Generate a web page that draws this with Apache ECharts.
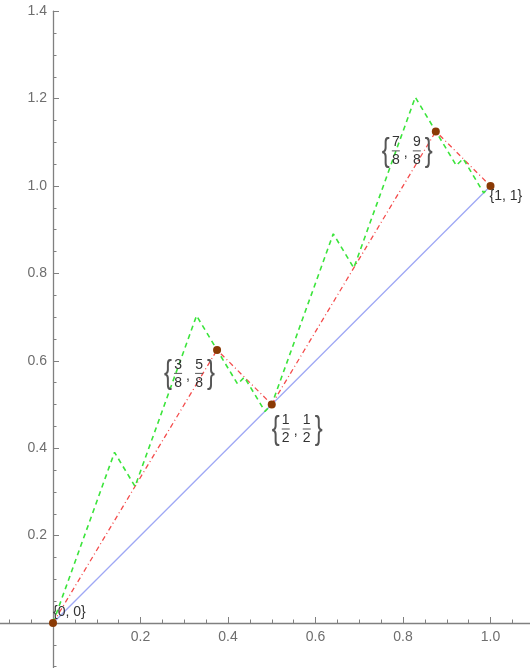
<!DOCTYPE html>
<html>
<head>
<meta charset="utf-8">
<script src="https://cdn.jsdelivr.net/npm/echarts@6/dist/echarts.min.js"></script>
<style>
	html, body { margin: 0; padding: 0; background: #fff; }
	#curve { width: 530px; height: 668px; }
</style>
</head>
<body>
<div id="curve"></div>
<script>
//////////// 데이터 ////////////
// 직선 (0,0) - (1,1)
var baseX = [0, 1];
var baseY = [0, 1];

// 1단계 꺾은선 (점 표시)
var firstX = [0, 0.375, 0.5, 0.875, 1];
var firstY = [0, 0.625, 0.5, 1.125, 1];

// 2단계 꺾은선
var secondX = [0, 0.140625, 0.1875, 0.328125, 0.375, 0.421875, 0.4375, 0.484375, 0.5,
	0.640625, 0.6875, 0.828125, 0.875, 0.921875, 0.9375, 0.984375, 1];
var secondY = [0, 0.390625, 0.3125, 0.703125, 0.625, 0.546875, 0.5625, 0.484375, 0.5,
	0.890625, 0.8125, 1.203125, 1.125, 1.046875, 1.0625, 0.984375, 1];

// 점 이름
var plainText = ['{0, 0}', null, null, null, '{1, 1}'];
var fracText = [null, ['3', '8', '5', '8'], ['1', '2', '1', '2'], ['7', '8', '9', '8'], null];

// 축 범위, 눈금
var xRange = [-0.2, 1.2];
var yRange = [-0.2, 1.4];
var axisInterval = 0.2;
var minorSplit = 4;

//////////// 스타일 ////////////
var FONT = 'Liberation Sans, Arial, sans-serif';
var TEXT_COLOR = '#333';
var AXIS_COLOR = '#808080';
var plainOffset = [[0, -11], null, null, null, [-1, 10]];
// 분수 라벨 상자 위치 (점 기준)
var fracOffset = [null, [-53, 7], [0, 8], [-54, 3], null];
// 그리드 (원점이 53, 623 에 오도록)
var GRID = { left: -34.5, right: -48, top: 11.2, bottom: -42.4 };

function zip(xs, ys) {
	var out = [];
	for (var i = 0; i < xs.length; i++) out.push([xs[i], ys[i]]);
	return out;
}

function tickLabel(v) {
	if (v <= 0.0001) return '';
	return v.toFixed(1);
}

// 분수 라벨 그리기
function renderFrac(params, api) {
	var i = api.value(2);
	var f = fracText[i];
	var p = api.coord([api.value(0), api.value(1)]);
	var off = fracOffset[i];
	var x0 = p[0] + off[0];
	var y0 = p[1] + off[1];
	var digit = function (t, x, y) {
		return { type: 'text', x: x0 + x, y: y0 + y,
			style: { text: t, fill: TEXT_COLOR, font: '14px ' + FONT, align: 'center', verticalAlign: 'middle' } };
	};
	var bar = function (x) {
		return { type: 'line', shape: { x1: x0 + x - 4, y1: y0 + 16.5, x2: x0 + x + 4, y2: y0 + 16.5 },
			style: { stroke: '#555', lineWidth: 1 } };
	};
	var brace = function (t, x) {
		return { type: 'text', x: x0 + x, y: y0 + 17, scaleX: 0.7,
			style: { text: t, fill: '#555', font: '34px ' + FONT, align: 'center', verticalAlign: 'middle' } };
	};
	return {
		type: 'group',
		children: [
			brace('{', 4),
			digit(f[0], 14, 8), bar(14), digit(f[1], 14, 26),
			digit(',', 24, 19),
			digit(f[2], 35, 8), bar(35), digit(f[3], 35, 26),
			brace('}', 47)
		]
	};
}

function axisCommon(range) {
	return {
		type: 'value',
		min: range[0],
		max: range[1],
		interval: axisInterval,
		axisLine: { onZero: false, lineStyle: { color: AXIS_COLOR, width: 1.3 } },
		axisTick: { inside: true, length: 6, lineStyle: { color: AXIS_COLOR, width: 1 } },
		minorTick: { show: true, splitNumber: minorSplit, length: 3.5, lineStyle: { color: AXIS_COLOR, width: 1 } },
		splitLine: { show: false },
		axisLabel: { formatter: tickLabel, color: '#6e6e6e', fontSize: 14, fontFamily: FONT }
	};
}

function showCurve() {
	var chart = echarts.init(document.getElementById('curve'));

	// 축을 0 위치로 옮기기 (그리드 가장자리에서 안쪽으로)
	var gridW = 530 - GRID.left - GRID.right;
	var gridH = 668 - GRID.top - GRID.bottom;

	var xAxis = axisCommon(xRange);
	xAxis.offset = yRange[0] * gridH / (yRange[1] - yRange[0]);
	xAxis.axisLabel.margin = 7;

	var yAxis = axisCommon(yRange);
	yAxis.offset = xRange[0] * gridW / (xRange[1] - xRange[0]);
	yAxis.axisLabel.margin = 6;

	var pointData = [];
	for (var i = 0; i < firstX.length; i++) {
		var item = { value: [firstX[i], firstY[i]] };
		if (plainText[i]) {
			item.label = {
				show: true, formatter: plainText[i], position: 'inside',
				align: 'left', verticalAlign: 'middle', offset: plainOffset[i],
				color: TEXT_COLOR, fontSize: 14, fontFamily: FONT
			};
		}
		pointData.push(item);
	}

	var fracData = [];
	for (var j = 0; j < fracText.length; j++) {
		if (fracText[j]) fracData.push([firstX[j], firstY[j], j]);
	}

	var option = {
		animation: false,
		grid: {
			left: GRID.left, right: GRID.right, top: GRID.top, bottom: GRID.bottom,
			containLabel: false, outerBoundsMode: 'none'
		},
		xAxis: xAxis,
		yAxis: yAxis,
		series: [
			{
				type: 'line', data: zip(baseX, baseY), symbol: 'none', z: 2,
				lineStyle: { color: '#9fa8f5', width: 1.3 }
			},
			{
				type: 'line', data: zip(firstX, firstY), symbol: 'none', z: 2,
				lineStyle: { color: '#f44c4c', width: 1.3, type: [5, 3, 1, 3] }
			},
			{
				type: 'line', data: zip(secondX, secondY), symbol: 'none', z: 3,
				lineStyle: { color: '#3be43b', width: 1.6, type: [5, 4] }
			},
			{
				type: 'scatter', data: pointData, symbolSize: 8, z: 6,
				itemStyle: { color: '#8a3a05', opacity: 1 }
			},
			{
				type: 'custom', data: fracData, renderItem: renderFrac,
				encode: { x: 0, y: 1 }, z: 5
			}
		]
	};

	chart.setOption(option);
}

showCurve();
</script>
</body>
</html>
